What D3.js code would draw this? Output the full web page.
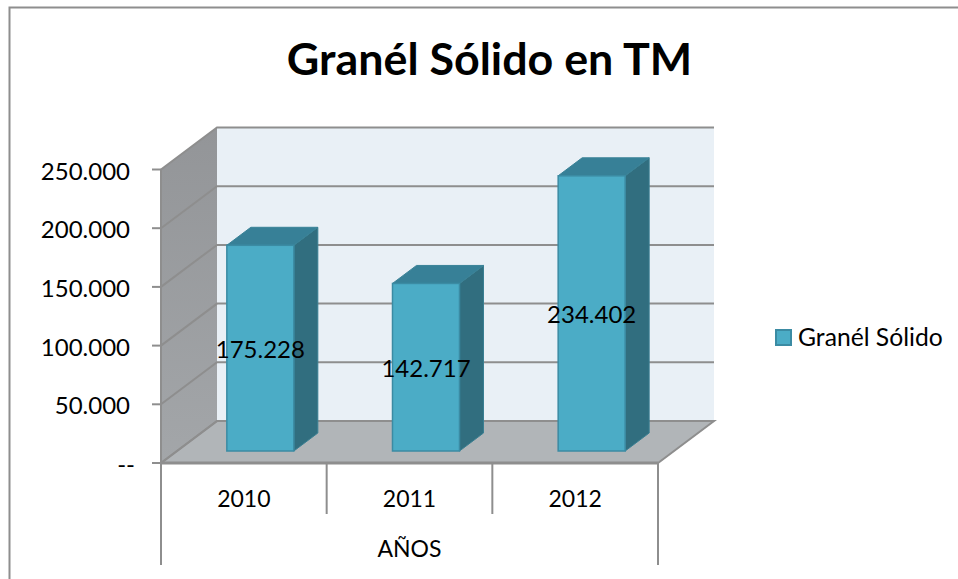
<!DOCTYPE html>
<html>
<head>
<meta charset="utf-8">
<script src="https://cdn.jsdelivr.net/npm/d3@7"></script>
<style>
  body { margin: 0; background: #fff; }
  text { font-family: Lato, "Open Sans", sans-serif; fill: #000; }
</style>
</head>
<body>
<svg id="chart" width="958" height="579"></svg>
<script>
const years = ['2010', '2011', '2012'];
const values = [175228, 142717, 234402];
const y_ticks = [0, 50000, 100000, 150000, 200000, 250000];
const y_tick_labels = ['--', '50.000', '100.000', '150.000', '200.000', '250.000'];
const value_labels = ['175.228', '142.717', '234.402'];

const svg = d3.select('#chart');

const x = d3.scaleBand().domain(years).range([161, 658]);
const y = d3.scaleLinear().domain([0, 250000]).range([463, 169.5]);

// depth of the 3d box, and where the bars sit inside it
const depth = {x: 56, y: -42};
const bar_off = {x: 16.5, y: -12};
const bar_depth = {x: 24, y: -18};
const bar_width = 67;

const axis_color = '#8e8e8e';
const pts = (a) => a.map(p => p.join(',')).join(' ');

const defs = svg.append('defs');
const wall_grad = defs.append('linearGradient').attr('id', 'wallGrad')
    .attr('x1', '0%').attr('x2', '0%').attr('y1', '0%').attr('y2', '100%');
wall_grad.append('stop').attr('offset', '0%').attr('stop-color', '#939598');
wall_grad.append('stop').attr('offset', '100%').attr('stop-color', '#a3a6a9');

// outer chart border, only top and left are in frame
svg.append('path')
    .attr('d', 'M9.5,579V7.5H958')
    .attr('fill', 'none').attr('stroke', axis_color).attr('stroke-width', 2);

// title
svg.append('text').text('Granél Sólido en TM')
    .attr('x', 489.5).attr('y', 75).attr('text-anchor', 'middle')
    .style('font-size', '44.8px').style('font-weight', 700);

const x0 = x.range()[0], x1 = x.range()[1];
const y0 = y(0), yTop = y(250000);

// back wall
svg.append('polygon')
    .attr('points', pts([[x0 + depth.x, yTop + depth.y], [x1 + depth.x, yTop + depth.y], [x1 + depth.x, y0 + depth.y], [x0 + depth.x, y0 + depth.y]]))
    .attr('fill', '#e9f0f6');

// left wall
svg.append('polygon')
    .attr('points', pts([[x0, yTop], [x0 + depth.x, yTop + depth.y], [x0 + depth.x, y0 + depth.y], [x0, y0]]))
    .attr('fill', 'url(#wallGrad)');

// floor
svg.append('polygon')
    .attr('points', pts([[x0, y0], [x0 + depth.x, y0 + depth.y], [x1 + depth.x, y0 + depth.y], [x1, y0]]))
    .attr('fill', '#b1b5b8')
    .attr('stroke', axis_color).attr('stroke-width', 2);

// gridlines along wall and back
y_ticks.forEach(t => {
    svg.append('polyline')
        .attr('points', pts([[x0, y(t)], [x0 + depth.x, y(t) + depth.y], [x1 + depth.x, y(t) + depth.y]]))
        .attr('fill', 'none').attr('stroke', axis_color).attr('stroke-width', 2);
});

// y axis
svg.append('line').attr('x1', x0).attr('x2', x0).attr('y1', yTop).attr('y2', y0)
    .attr('stroke', axis_color).attr('stroke-width', 2);
y_ticks.forEach((t, i) => {
    svg.append('line').attr('x1', x0 - 9).attr('x2', x0).attr('y1', y(t)).attr('y2', y(t))
        .attr('stroke', axis_color).attr('stroke-width', 2);
    svg.append('text').text(y_tick_labels[i])
        .attr('x', t === 0 ? 135 : 130).attr('y', y(t) + 10).attr('text-anchor', 'end')
        .style('font-size', '24px');
});

// front axis line and category dividers
svg.append('line').attr('x1', x0).attr('x2', x1).attr('y1', y0).attr('y2', y0)
    .attr('stroke', axis_color).attr('stroke-width', 3);
years.forEach((yr, i) => {
    svg.append('line').attr('x1', x(yr)).attr('x2', x(yr)).attr('y1', y0).attr('y2', i === 0 ? 565 : 514)
        .attr('stroke', axis_color).attr('stroke-width', 2);
    svg.append('text').text(yr)
        .attr('x', x(yr) + x.bandwidth() / 2).attr('y', 507).attr('text-anchor', 'middle')
        .style('font-size', '23px');
});
svg.append('line').attr('x1', x1).attr('x2', x1).attr('y1', y0).attr('y2', 565)
    .attr('stroke', axis_color).attr('stroke-width', 2);
svg.append('text').text('AÑOS')
    .attr('x', (x0 + x1) / 2).attr('y', 557).attr('text-anchor', 'middle')
    .style('font-size', '23px');

// bars
years.forEach((yr, i) => {
    const left = x(yr) + (x.bandwidth() - bar_width) / 2 + bar_off.x;
    const right = left + bar_width;
    const bottom = y(0) + bar_off.y;
    const top = y(values[i]) + bar_off.y;

    svg.append('polygon')
        .attr('points', pts([[right, top], [right + bar_depth.x, top + bar_depth.y], [right + bar_depth.x, bottom + bar_depth.y], [right, bottom]]))
        .attr('fill', '#316e7f').attr('stroke', '#3a7f92').attr('stroke-width', 1);
    svg.append('polygon')
        .attr('points', pts([[left, top], [left + bar_depth.x, top + bar_depth.y], [right + bar_depth.x, top + bar_depth.y], [right, top]]))
        .attr('fill', '#378097').attr('stroke', '#3a8297').attr('stroke-width', 1);
    svg.append('rect')
        .attr('x', left).attr('y', top).attr('width', bar_width).attr('height', bottom - top)
        .attr('fill', '#4bacc6').attr('stroke', '#3b8ba3').attr('stroke-width', 1.5);

    // label sits in the middle of the full bar column
    svg.append('text').text(value_labels[i])
        .attr('x', left + bar_width / 2).attr('y', (top + bottom) / 2 + 9.5)
        .attr('text-anchor', 'middle')
        .style('font-size', '24px');
});

// legend
svg.append('rect').attr('x', 776).attr('y', 330).attr('width', 15).attr('height', 15)
    .attr('fill', '#4bacc6').attr('stroke', '#3b8ba3').attr('stroke-width', 2);
svg.append('text').text('Granél Sólido')
    .attr('x', 798).attr('y', 346)
    .style('font-size', '24.7px');
</script>
</body>
</html>
